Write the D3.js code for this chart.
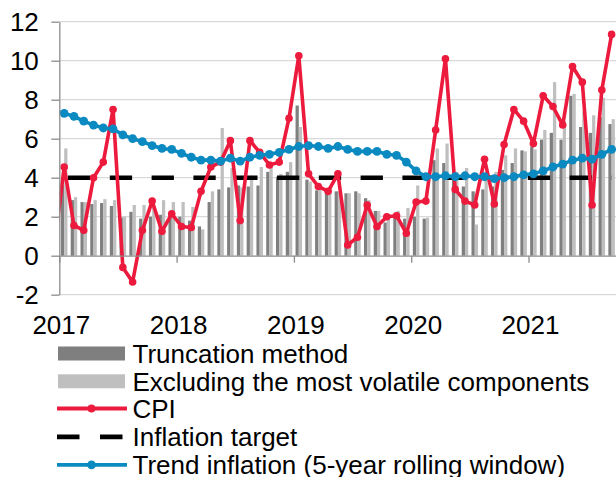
<!DOCTYPE html>
<html>
<head>
<meta charset="utf-8">
<style>
  body { margin: 0; background: #fff; }
  svg { display: block; font-family: "Liberation Sans", Arial, sans-serif; }
</style>
</head>
<body>
<svg id="chart" width="616" height="477"></svg>
<script src="https://cdn.jsdelivr.net/npm/d3@7/dist/d3.min.js"></script>
<script>
// monthly categories, Dec 2016 .. Sep 2021 (Dec 2016 only feeds the clipped line start)
var months = d3.timeMonth.range(new Date(2016, 11, 1), new Date(2021, 9, 1));
var yearTicks = [2017, 2018, 2019, 2020, 2021];
var yTicks = [-2, 0, 2, 4, 6, 8, 10, 12];

// CPI, Dec 2016 .. Sep 2021
var cpi = [0.45,
  4.55, 1.55, 1.3, 4.0, 4.8, 7.5, -0.6, -1.35, 1.3, 2.8, 1.25, 2.15,
  1.5, 1.45, 3.3, 4.55, 4.8, 5.9, 1.8, 5.9, 5.3, 4.65, 4.8, 7.05,
  10.25, 4.2, 3.55, 3.3, 4.2, 0.55, 0.95, 2.6, 1.5, 2.0, 2.05, 1.15,
  2.75, 2.8, 6.45, 10.1, 3.4, 2.8, 2.6, 4.95, 2.65, 5.7, 7.5, 6.9,
  5.75, 8.2, 7.65, 6.7, 9.7, 8.9, 2.6, 8.5, 11.35];

// trend inflation (5-year rolling window), Dec 2016 .. Sep 2021
var trend = [7.4,
  7.3, 7.15, 6.9, 6.7, 6.55, 6.5, 6.2, 6.0, 5.85, 5.65, 5.5, 5.45,
  5.25, 5.05, 4.9, 4.9, 4.85, 5.0, 4.85, 5.05, 5.15, 5.2, 5.3, 5.45,
  5.6, 5.65, 5.6, 5.5, 5.6, 5.45, 5.35, 5.35, 5.35, 5.2, 5.15, 4.8,
  4.35, 4.05, 4.05, 4.1, 4.05, 4.1, 4.05, 4.05, 3.95, 4.0, 4.05, 4.15,
  4.2, 4.35, 4.55, 4.7, 4.9, 5.0, 4.95, 5.2, 5.45];

// bars, Jan 2017 .. Sep 2021 (null for Dec 2016)
var truncation = [null,
  3.6, 2.85, 2.75, 2.65, 2.7, 2.55, 1.95, 2.25, 1.9, 2.0, 2.1, 2.2,
  2.0, 1.8, 1.5, 2.75, 3.4, 3.5, 3.6, 3.55, 3.6, 4.3, 4.05, 4.3,
  7.7, 3.9, 3.35, 3.2, 3.3, 3.2, 3.3, 2.95, 2.3, 1.7, 2.1, 1.9,
  2.0, 1.9, 4.9, 4.75, 4.0, 3.55, 3.3, 3.4, 3.55, 4.4, 4.75, 5.4,
  5.6, 5.95, 6.3, 5.95, 8.2, 6.6, 6.3, 7.1, 6.75];

var excluding = [null,
  5.5, 3.0, 2.75, 2.85, 2.9, 2.85, 2.0, 2.6, 2.6, 2.5, 2.85, 2.75,
  2.75, 2.5, 1.35, 3.3, 6.55, 4.5, 3.5, 4.1, 4.55, 4.55, 4.2, 4.8,
  6.6, 3.8, 3.6, 3.5, 3.3, 3.2, 3.2, 2.85, 2.3, 1.9, 2.3, 2.45,
  3.6, 1.95, 5.5, 5.75, 4.3, 4.5, 1.6, 4.0, 4.3, 5.15, 5.5, 5.35,
  5.45, 6.45, 8.9, 6.9, 8.3, 7.4, 7.2, 8.1, 7.0];

var targetRate = 4;

var legendItems = ["Truncation method", "Excluding the most volatile components",
  "CPI", "Inflation target", "Trend inflation (5-year rolling window)"];

var colDark = "#7f7f7f", colLight = "#bfbfbf", colRed = "#ec1a3c",
    colBlue = "#0a8ac0", colGrid = "#d9d9d9", colAxis = "#8c8c8c";
var fontSize = 26;

var svg = d3.select("#chart");
var plotL = 59.3, plotR = 616.5, plotT = 21.7, plotB = 294.7;

var x = d3.scaleLinear().domain([0, 57]).range([plotL, plotR]);
var y = d3.scaleLinear().domain([-2, 12]).range([plotB, plotT]);

function mi(d) { return (d.getFullYear() - 2017) * 12 + d.getMonth(); }
function cx(d) { return x(mi(d) + 0.5); }

svg.append("defs").append("clipPath").attr("id", "plot")
  .append("rect").attr("x", plotL).attr("y", 0).attr("width", 620 - plotL).attr("height", 305);

// gridlines
svg.append("g").selectAll("line").data(yTicks.filter(function(t) { return t !== 0; }))
  .enter().append("line")
    .attr("x1", plotL).attr("x2", 616)
    .attr("y1", function(d) { return y(d); }).attr("y2", function(d) { return y(d); })
    .attr("stroke", colGrid).attr("stroke-width", 1.3);

var plot = svg.append("g").attr("clip-path", "url(#plot)");
var w = (x(1) - x(0)) / 3;

plot.append("g").selectAll("rect").data(months.map(function(m, i) { return {m: m, v: truncation[i]}; }).filter(function(d) { return d.v != null; }))
  .enter().append("rect")
    .attr("x", function(d) { return cx(d.m) - w; })
    .attr("width", w)
    .attr("y", function(d) { return y(Math.max(0, d.v)); })
    .attr("height", function(d) { return Math.abs(y(d.v) - y(0)); })
    .attr("fill", colDark);

plot.append("g").selectAll("rect").data(months.map(function(m, i) { return {m: m, v: excluding[i]}; }).filter(function(d) { return d.v != null; }))
  .enter().append("rect")
    .attr("x", function(d) { return cx(d.m); })
    .attr("width", w)
    .attr("y", function(d) { return y(Math.max(0, d.v)); })
    .attr("height", function(d) { return Math.abs(y(d.v) - y(0)); })
    .attr("fill", colLight);

// axes
var yAxis = d3.axisLeft(y).tickValues(yTicks).tickSize(8).tickSizeOuter(0).tickPadding(12.5);
var gy = svg.append("g").attr("transform", "translate(" + plotL + ",0)").call(yAxis);
gy.select(".domain").attr("stroke", colAxis).attr("stroke-width", 1.3);
gy.selectAll(".tick line").attr("stroke", colAxis).attr("stroke-width", 1.3);
gy.selectAll("text").attr("font-size", fontSize).attr("fill", "#000")
  .attr("font-family", "Liberation Sans, Arial, sans-serif")
  .text(function(d) { return d < 0 ? "-" + Math.abs(d) : d; });

var xAxis = d3.axisBottom(x).tickValues(yearTicks.map(function(yr) { return (yr - 2017) * 12; }))
  .tickSize(7).tickSizeOuter(0).tickFormat("");
var gx = svg.append("g").attr("transform", "translate(0," + y(0) + ")").call(xAxis);
gx.select(".domain").attr("stroke", colAxis).attr("stroke-width", 1.3);
gx.selectAll(".tick line").attr("stroke", colAxis).attr("stroke-width", 1.3);

svg.append("g").selectAll("text").data(yearTicks).enter().append("text")
  .attr("x", function(d) { return x((d - 2017) * 12) + 2; })
  .attr("y", 333.5)
  .attr("text-anchor", "middle")
  .attr("font-size", fontSize)
  .text(function(d) { return d; });

// inflation target
plot.append("path").datum(months)
  .attr("d", d3.line().x(cx).y(function() { return y(targetRate); }))
  .attr("fill", "none").attr("stroke", "#000").attr("stroke-width", 4.5)
  .attr("stroke-dasharray", "22.3 19.5").attr("stroke-dashoffset", 28.2);

// CPI
var cpiData = months.map(function(m, i) { return {m: m, v: cpi[i]}; });
plot.append("path").datum(cpiData)
  .attr("d", d3.line().x(function(d) { return cx(d.m); }).y(function(d) { return y(d.v); }))
  .attr("fill", "none").attr("stroke", colRed).attr("stroke-width", 3.6).attr("stroke-linejoin", "round");
plot.append("g").selectAll("circle").data(cpiData).enter().append("circle")
  .attr("cx", function(d) { return cx(d.m); }).attr("cy", function(d) { return y(d.v); })
  .attr("r", 3.8).attr("fill", colRed);

// trend
var trendData = months.map(function(m, i) { return {m: m, v: trend[i]}; });
plot.append("path").datum(trendData)
  .attr("d", d3.line().x(function(d) { return cx(d.m); }).y(function(d) { return y(d.v); }))
  .attr("fill", "none").attr("stroke", colBlue).attr("stroke-width", 3.6).attr("stroke-linejoin", "round");
plot.append("g").selectAll("circle").data(trendData.slice(1)).enter().append("circle")
  .attr("cx", function(d) { return cx(d.m); }).attr("cy", function(d) { return y(d.v); })
  .attr("r", 4.4).attr("fill", colBlue);

// legend
var lg = svg.append("g");
var rowY = [353.5, 381.3, 408.5, 436.8, 464.8];
lg.append("rect").attr("x", 58).attr("y", rowY[0] - 7).attr("width", 67).attr("height", 14).attr("fill", colDark);
lg.append("rect").attr("x", 58).attr("y", rowY[1] - 7).attr("width", 67).attr("height", 14).attr("fill", colLight);
lg.append("line").attr("x1", 57).attr("x2", 127).attr("y1", rowY[2]).attr("y2", rowY[2])
  .attr("stroke", colRed).attr("stroke-width", 3.8);
lg.append("circle").attr("cx", 91.5).attr("cy", rowY[2]).attr("r", 3.9).attr("fill", colRed);
lg.append("line").attr("x1", 57).attr("x2", 122.5).attr("y1", rowY[3]).attr("y2", rowY[3])
  .attr("stroke", "#000").attr("stroke-width", 4.8).attr("stroke-dasharray", "22.5 20.5");
lg.append("line").attr("x1", 57).attr("x2", 127).attr("y1", rowY[4]).attr("y2", rowY[4])
  .attr("stroke", colBlue).attr("stroke-width", 3.8);
lg.append("circle").attr("cx", 91.5).attr("cy", rowY[4]).attr("r", 4.4).attr("fill", colBlue);

lg.selectAll("text").data(legendItems).enter().append("text")
  .attr("x", 132.5)
  .attr("y", function(d, i) { return rowY[i] + 9.3; })
  .attr("font-size", fontSize)
  .text(function(d) { return d; });
</script>
</body>
</html>
